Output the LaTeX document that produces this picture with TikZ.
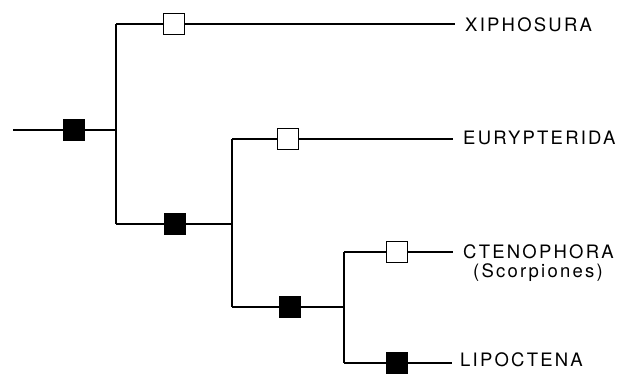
\documentclass[tikz,border=0pt]{standalone}
\usepackage{fontspec}
\setmainfont{TeX Gyre Heros}[LetterSpace=12]
\begin{document}
\begin{tikzpicture}[x=1pt,y=-1pt,
  branch/.style={line width=2pt},
  openbox/.style={draw,line width=1.6pt,fill=white,minimum size=21pt,inner sep=0pt},
  fullbox/.style={draw,line width=1.6pt,fill=black,minimum size=21pt,inner sep=0pt},
  taxon/.style={anchor=west,inner sep=0pt,font=\fontsize{18.5}{21}\selectfont}]
\useasboundingbox (0,0) rectangle (621,376);
% coordinates
\coordinate (r0) at (13,130);
\coordinate (j1) at (116,130);
\coordinate (j1t) at (116,24);
\coordinate (j1b) at (116,224);
\coordinate (e1) at (455,24);
\coordinate (j2b) at (232,224);
\coordinate (j2t) at (232,139);
\coordinate (j2d) at (232,307);
\coordinate (e2) at (453,139);
\coordinate (j3) at (344,307);
\coordinate (j3t) at (344,252);
\coordinate (j3b) at (344,363);
\coordinate (e3) at (453,252);
\coordinate (e4) at (452,363);
% lines
\draw[branch] (r0) -- (j1);
\draw[branch] (j1t) -- (j1b);
\draw[branch] (j1t) -- (e1);
\draw[branch] (j1b) -- (j2b);
\draw[branch] (j2t) -- (j2d);
\draw[branch] (j2t) -- (e2);
\draw[branch] (j2d) -- (j3);
\draw[branch] (j3t) -- (j3b);
\draw[branch] (j3t) -- (e3);
\draw[branch] (j3b) -- (e4);
% squares
\node[fullbox] (s1) at (74,130) {};
\node[openbox] (s2) at (174,24) {};
\node[fullbox] (s3) at (175,224) {};
\node[openbox] (s4) at (288,139) {};
\node[fullbox] (s5) at (290,307) {};
\node[openbox] (s6) at (397,252) {};
\node[fullbox] (s7) at (397,363) {};
% labels
\node[taxon] (t1) at (465,25) {XIPHOSURA};
\node[taxon] (t2) at (463,138) {EURYPTERIDA};
\node[taxon] (t3) at (463,252) {CTENOPHORA};
\node[taxon] (t3b) at (473,273) {(Scorpiones)};
\node[taxon] (t4) at (460,360) {LIPOCTENA};
\end{tikzpicture}
\end{document}
